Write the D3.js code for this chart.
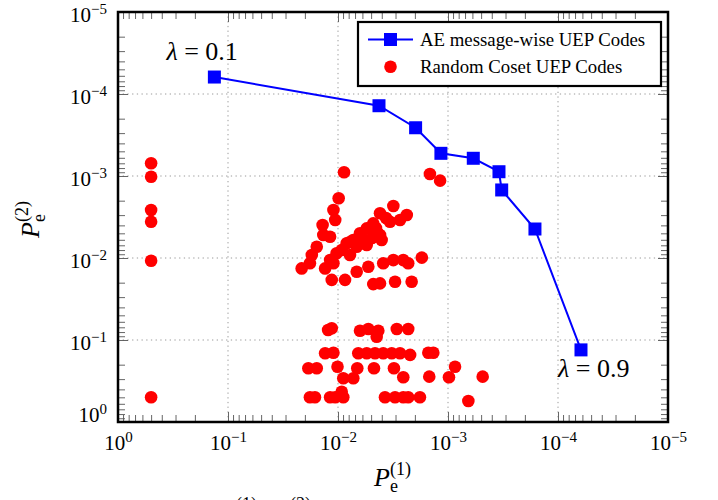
<!DOCTYPE html>
<html>
<head>
<meta charset="utf-8">
<script src="https://cdn.jsdelivr.net/npm/d3@7"></script>
<style>
  body { margin: 0; background: #fff; }
  text { font-family: "Liberation Serif", "DejaVu Serif", serif; fill: #000; }
</style>
</head>
<body>
<svg id="chart" width="718" height="500"></svg>
<script>
// AE message-wise UEP codes, lambda going from 0.1 (left) to 0.9 (right)
var aeP1 = [0.133, 4.24e-3, 1.97e-3, 1.16e-3, 5.89e-4, 3.44e-4, 3.25e-4, 1.62e-4, 6.18e-5];
var aeP2 = [6.21e-5, 1.39e-4, 2.58e-4, 5.29e-4, 6.08e-4, 8.87e-4, 1.48e-3, 4.43e-3, 0.132];

// random coset UEP codes as [P1, P2] pairs
var cosetEdge = [
  [0.5, 7.0e-4], [0.5, 1.02e-3], [0.5, 2.6e-3], [0.5, 3.61e-3], [0.5, 1.08e-2], [0.5, 0.5]
];
var cosetUpper = [
  [0.00881, 9.0e-4], [0.00146, 9.46e-4], [0.00118, 1.14e-3], [0.00986, 1.87e-3],
  [0.0110, 2.6e-3], [0.0106, 3.44e-3], [0.0138, 3.96e-3], [0.0136, 5.25e-3],
  [0.0118, 5.5e-3], [0.0156, 7.28e-3], [0.0173, 9.19e-3], [0.0180, 1.16e-2],
  [0.0214, 1.34e-2], [0.00314, 2.32e-3], [0.00415, 2.85e-3], [0.00237, 2.99e-3],
  [0.00273, 3.44e-3], [0.00337, 3.61e-3], [0.00478, 3.78e-3], [0.00548, 4.35e-3],
  [0.00631, 5.0e-3], [0.00415, 5.25e-3], [0.00401, 6.03e-3], [0.00726, 6.03e-3],
  [0.00548, 6.94e-3], [0.00834, 6.62e-3], [0.00676, 7.28e-3], [0.00925, 7.98e-3],
  [0.0103, 8.77e-3], [0.0118, 1.06e-2], [0.0110, 1.16e-2], [0.0131, 1.34e-2],
  [0.00173, 9.9e-3], [0.00255, 1.06e-2], [0.00230, 1.16e-2], [0.00314, 1.06e-2],
  [0.00388, 1.16e-2], [0.00530, 1.28e-2], [0.00676, 1.47e-2], [0.0114, 1.85e-2],
  [0.00863, 1.85e-2], [0.00478, 2.08e-2], [0.00415, 2.04e-2], [0.00303, 1.95e-2],
  [0.00214, 1.95e-2], [0.00778, 6.38e-3], [0.00605, 5.7e-3], [0.00452, 4.31e-3],
  [0.00366, 3.25e-3], [0.00593, 6.56e-3], [0.00491, 5.7e-3], [0.00442, 4.82e-3],
  [0.00778, 9.19e-3]
];
var cosetLower = [
  [0.0123, 0.0755], [0.0114, 0.0720], [0.00631, 0.0771], [0.00530, 0.0734],
  [0.00430, 0.0771], [0.00445, 0.0912], [0.00292, 0.0734], [0.00230, 0.0734],
  [0.0131, 0.145], [0.0110, 0.143], [0.00654, 0.145], [0.00548, 0.145],
  [0.00461, 0.145], [0.00388, 0.145], [0.00325, 0.145], [0.00273, 0.145],
  [0.00221, 0.152], [0.00151, 0.143], [0.00136, 0.143],
  [0.0186, 0.221], [0.0156, 0.221], [0.0101, 0.212], [0.00668, 0.221],
  [0.00471, 0.221], [0.00310, 0.221], [0.000863, 0.212],
  [0.00895, 0.293], [0.00726, 0.293], [0.00255, 0.285], [0.00148, 0.280],
  [0.00098, 0.285], [0.000484, 0.280],
  [0.0180, 0.5], [0.0162, 0.5], [0.0118, 0.5], [0.0106, 0.5], [0.00925, 0.427],
  [0.00895, 0.5], [0.00374, 0.5], [0.00303, 0.5], [0.00255, 0.5], [0.00230, 0.5],
  [0.00180, 0.5], [0.000653, 0.555]
];

var decadeTicks = [1, 1e-1, 1e-2, 1e-3, 1e-4, 1e-5];
var decadeExps = ["0", "\u22121", "\u22122", "\u22123", "\u22124", "\u22125"];
var legendLabels = ["AE message-wise UEP Codes", "Random Coset UEP Codes"];
var lambdaLabels = ["0.1", "0.9"];

var blue = "#0000ff", red = "#ff0000";
var svg = d3.select("#chart");

// both axes run from 10^0 down to 10^-5
var x = d3.scaleLog().domain([1, 1e-5]).range([118, 668]);
var y = d3.scaleLog().domain([1, 1e-5]).range([422, 12]);

// minor ticks 2..9 in every decade
var minorTicks = [];
decadeTicks.slice(1).forEach(function(d) {
  for (var k = 2; k <= 9; k++) minorTicks.push(d * k);
});

// dotted grid on the inner decades
var inner = decadeTicks.slice(1, 5);
var grid = svg.append("g");
grid.selectAll(".vg").data(inner).enter().append("line")
  .attr("x1", function(d) { return x(d); })
  .attr("x2", function(d) { return x(d); })
  .attr("y1", y(1)).attr("y2", y(1e-5))
  .attr("stroke", "#9a9a9a").attr("stroke-width", 1)
  .attr("stroke-dasharray", "1.3,3.4");
grid.selectAll(".hg").data(inner).enter().append("line")
  .attr("y1", function(d) { return y(d); })
  .attr("y2", function(d) { return y(d); })
  .attr("x1", x(1)).attr("x2", x(1e-5))
  .attr("stroke", "#9a9a9a").attr("stroke-width", 1)
  .attr("stroke-dasharray", "1.3,3.4");

// inward ticks on all four sides
function tickAxis(axis, tx, ty, vals, len) {
  var g = svg.append("g")
    .attr("transform", "translate(" + tx + "," + ty + ")")
    .call(axis.tickValues(vals).tickSize(-len).tickSizeOuter(0).tickFormat(""));
  g.select(".domain").remove();
  g.selectAll("line").attr("stroke", "#555").attr("stroke-width", 0.9);
  return g;
}
[[minorTicks, 7], [decadeTicks, 10]].forEach(function(t) {
  tickAxis(d3.axisBottom(x), 0, y(1), t[0], t[1]);
  tickAxis(d3.axisTop(x), 0, y(1e-5), t[0], t[1]);
  tickAxis(d3.axisLeft(y), x(1), 0, t[0], t[1]);
  tickAxis(d3.axisRight(y), x(1e-5), 0, t[0], t[1]);
});

// tick labels 10^k
var xl = svg.append("g").attr("transform", "translate(0," + y(1) + ")")
  .call(d3.axisBottom(x).tickValues(decadeTicks).tickSize(0));
xl.select(".domain").remove();
xl.selectAll("text")
  .attr("y", 28).attr("dy", 0)
  .attr("font-size", 21).attr("text-anchor", "middle")
  .text("10")
  .append("tspan").attr("dy", -8).attr("font-size", 15)
  .text(function(d, i) { return decadeExps[i]; });

var yl = svg.append("g").attr("transform", "translate(" + x(1) + ",0)")
  .call(d3.axisLeft(y).tickValues(decadeTicks).tickSize(0));
yl.select(".domain").remove();
yl.selectAll("text")
  .attr("x", -11).attr("dy", 0)
  .attr("y", function(d) { return d === 1 ? -1 : 9.5; })
  .attr("font-size", 21).attr("text-anchor", "end")
  .text("10")
  .append("tspan").attr("dy", -8).attr("font-size", 15)
  .text(function(d, i) { return decadeExps[i]; });

// AE curve
var ae = aeP1.map(function(d, i) { return [d, aeP2[i]]; });
var line = d3.line()
  .x(function(d) { return x(d[0]); })
  .y(function(d) { return y(d[1]); });
svg.append("path").datum(ae)
  .attr("d", line).attr("fill", "none")
  .attr("stroke", blue).attr("stroke-width", 2);
svg.selectAll(".sq").data(ae).enter().append("rect")
  .attr("x", function(d) { return x(d[0]) - 6.5; })
  .attr("y", function(d) { return y(d[1]) - 6.5; })
  .attr("width", 13).attr("height", 13)
  .attr("fill", blue);

// random coset points
var coset = cosetEdge.concat(cosetUpper, cosetLower);
svg.selectAll(".dot").data(coset).enter().append("circle")
  .attr("cx", function(d) { return x(d[0]); })
  .attr("cy", function(d) { return y(d[1]); })
  .attr("r", 6.3)
  .attr("fill", red);

// frame
svg.append("rect")
  .attr("x", x(1)).attr("y", y(1e-5))
  .attr("width", x(1e-5) - x(1)).attr("height", y(1) - y(1e-5))
  .attr("fill", "none").attr("stroke", "#000").attr("stroke-width", 2.5);

// lambda annotations next to the end points
function lambdaText(px, py, val) {
  var t = svg.append("text").attr("x", px).attr("y", py).attr("font-size", 26);
  t.append("tspan").attr("font-style", "italic").text("\u03bb");
  t.append("tspan").text(" = " + val);
}
lambdaText(x(aeP1[0]) - 48, y(aeP2[0]) - 17, lambdaLabels[0]);
var lastI = aeP1.length - 1;
lambdaText(x(aeP1[lastI]) - 23, y(aeP2[lastI]) + 27, lambdaLabels[1]);

// legend
var lg = svg.append("g");
lg.append("rect").attr("x", 358).attr("y", 22).attr("width", 303).attr("height", 64)
  .attr("fill", "#fff").attr("stroke", "#000").attr("stroke-width", 2.2);
lg.append("line").attr("x1", 368).attr("x2", 413).attr("y1", 39.5).attr("y2", 39.5)
  .attr("stroke", blue).attr("stroke-width", 2);
lg.append("rect").attr("x", 384).attr("y", 33).attr("width", 13).attr("height", 13)
  .attr("fill", blue);
lg.append("circle").attr("cx", 390.5).attr("cy", 66.7).attr("r", 6.3).attr("fill", red);
lg.selectAll(".lt").data(legendLabels).enter().append("text")
  .attr("x", 420)
  .attr("y", function(d, i) { return 45.5 + i * 27; })
  .attr("font-size", 18.8)
  .text(function(d) { return d; });

// axis labels P_e^(n)
function peLabel(tx, ty, rot, n) {
  var g = svg.append("g")
    .attr("transform", "translate(" + tx + "," + ty + ") rotate(" + rot + ")");
  g.append("text").attr("x", 0).attr("y", 0)
    .attr("font-size", 26).attr("font-style", "italic").text("P");
  g.append("text").attr("x", 16).attr("y", 6).attr("font-size", 18).text("e");
  g.append("text").attr("x", 16).attr("y", -11).attr("font-size", 18).text("(" + n + ")");
}
peLabel(374, 486, 0, 1);
peLabel(39, 238, -90, 2);

// caption line, cut off by the bottom edge
svg.append("text").attr("x", 236).attr("y", 510).attr("font-size", 18).text("(1)");
svg.append("text").attr("x", 290).attr("y", 510).attr("font-size", 18).text("(2)");
</script>
</body>
</html>
